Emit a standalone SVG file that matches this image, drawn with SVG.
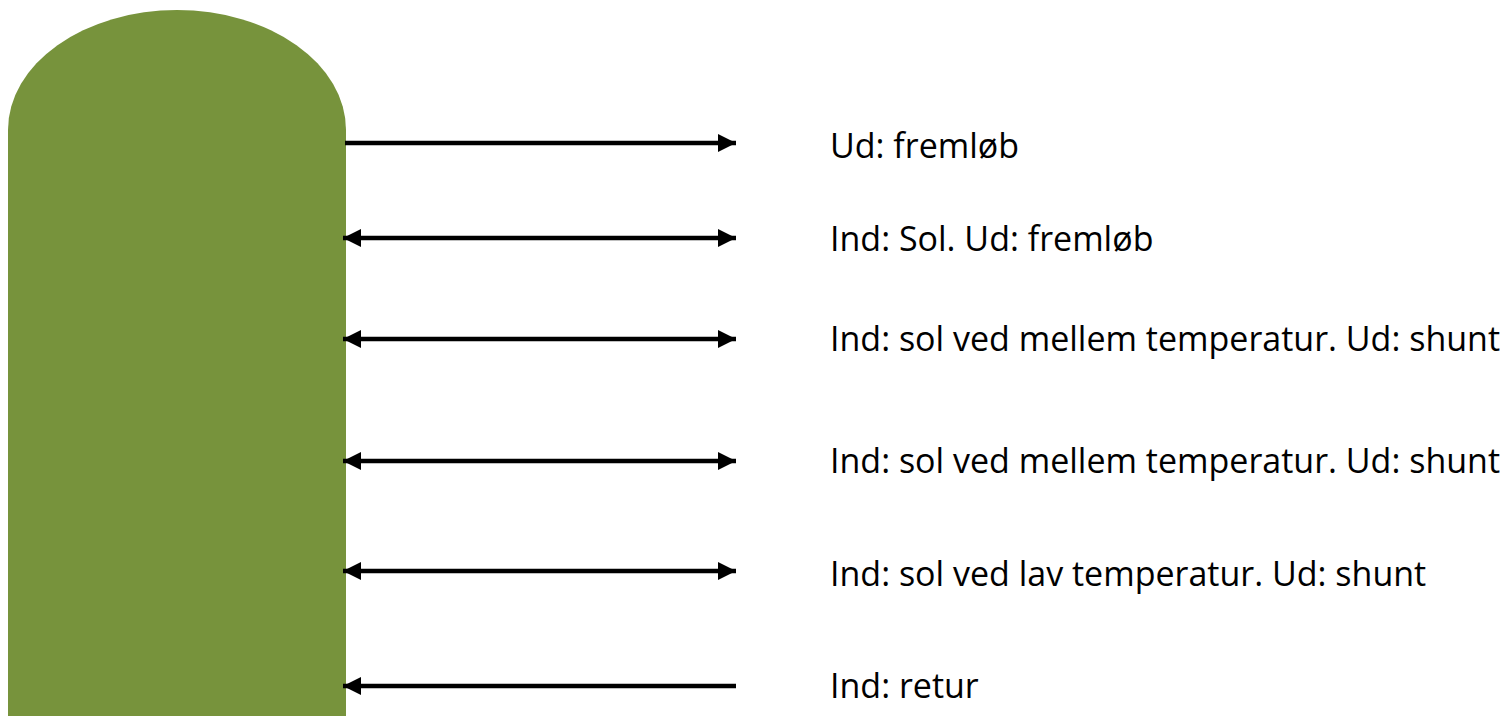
<svg xmlns="http://www.w3.org/2000/svg" width="1510" height="716" viewBox="0 0 1510 716">
<style>
.lbl{font-family:"Open Sans","Liberation Sans",sans-serif;font-size:34px;fill:#000}
.arr{stroke:#000;stroke-width:4.5;fill:none}
</style>
<defs>
<marker id="head" markerUnits="userSpaceOnUse" markerWidth="18" markerHeight="18" refX="16" refY="8" orient="auto-start-reverse" viewBox="0 0 16 16">
<path d="M0,0 L16,8 L0,16 z" fill="#000"/>
</marker>
</defs>
<g id="tank">
<path d="M8,716 L8,130 A169,120 0 0 1 346,130 L346,716 z" fill="#77933C"/>
</g>
<g id="connectors">
<line class="arr" x1="345" y1="143" x2="736" y2="143" marker-end="url(#head)"/>
<line class="arr" x1="343" y1="238" x2="736" y2="238" marker-start="url(#head)" marker-end="url(#head)"/>
<line class="arr" x1="343" y1="339" x2="736" y2="339" marker-start="url(#head)" marker-end="url(#head)"/>
<line class="arr" x1="343" y1="461" x2="736" y2="461" marker-start="url(#head)" marker-end="url(#head)"/>
<line class="arr" x1="343" y1="571" x2="736" y2="571" marker-start="url(#head)" marker-end="url(#head)"/>
<line class="arr" x1="736" y1="686" x2="343" y2="686" marker-end="url(#head)"/>
</g>
<g id="label1"><text class="lbl" x="830" y="158">Ud: fremløb</text></g>
<g id="label2"><text class="lbl" x="830" y="251">Ind: Sol. Ud: fremløb</text></g>
<g id="label3"><text class="lbl" x="830" y="351">Ind: sol ved mellem temperatur. Ud: shunt</text></g>
<g id="label4"><text class="lbl" x="830" y="473">Ind: sol ved mellem temperatur. Ud: shunt</text></g>
<g id="label5"><text class="lbl" x="830" y="586">Ind: sol ved lav temperatur. Ud: shunt</text></g>
<g id="label6"><text class="lbl" x="830" y="698">Ind: retur</text></g>
</svg>
